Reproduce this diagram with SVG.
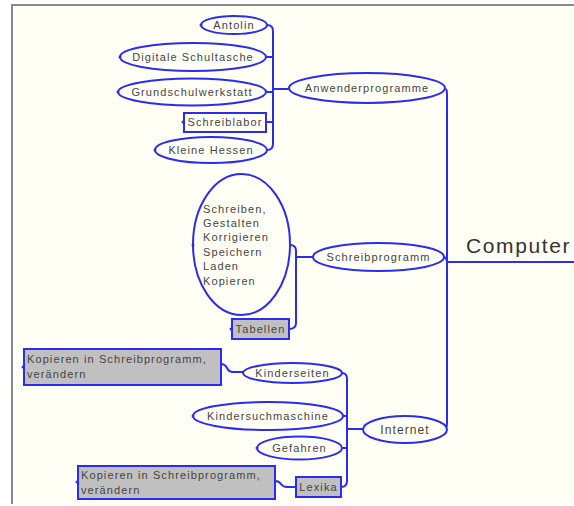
<svg xmlns="http://www.w3.org/2000/svg" width="574" height="506" viewBox="0 0 574 506">
<style>
.bg{fill:#fffff6}
.el{fill:#fffff6;stroke:#2b2bf2;stroke-width:2}
.bx{fill:#fffff6;stroke:#2b2bf2;stroke-width:2}
.gb{fill:#c0c0c0;stroke:#2b2bf2;stroke-width:2}
.cn{fill:none;stroke:#2b2bf2;stroke-width:2}
.t{font-family:"Liberation Sans",Arial,sans-serif;font-size:11px;fill:#444;letter-spacing:1.1px}
.c{text-anchor:middle}
.dot{fill:#2b2bf2}
</style>
<rect x="0" y="0" width="574" height="506" fill="#ffffff"/>
<rect class="bg" x="11" y="4" width="563" height="500"/>
<line x1="11" y1="5" x2="574" y2="5" stroke="#8a8a8a" stroke-width="2"/>
<line x1="12" y1="4" x2="12" y2="504" stroke="#8a8a8a" stroke-width="2"/>

<g id="connectors">
<path class="cn" d="M446,89 Q447,90 447,95 L447,423 Q447,428 445,429"/>
<path class="cn" d="M447,262 L574,262"/>
<path class="cn" d="M267,25 Q273,25 273,31 L273,144 Q273,150 267,150"/>
<path class="cn" d="M266,57 L273,57"/>
<path class="cn" d="M266,92 L273,92"/>
<path class="cn" d="M266,122 L273,122"/>
<path class="cn" d="M273,89 L289,89"/>
<path class="cn" d="M290,245 Q296,245 296,251 L296,323 Q296,329 289,329"/>
<path class="cn" d="M296,257 L313,257"/>
<path class="cn" d="M444,257 Q447,258 447,262"/>
<path class="cn" d="M342,373 Q347,373 347,379 L347,481 Q347,487 341,487"/>
<path class="cn" d="M343,416 L347,416"/>
<path class="cn" d="M342,448 L347,448"/>
<path class="cn" d="M347,429 L363,429"/>
<path class="cn" d="M221,364 Q225,364 227,368 Q229,372 233,372 L243,372"/>
<path class="cn" d="M275,481 Q279,481 281,484 Q283,487 287,487 L296,487"/>
</g>

<g id="computer">
<text x="466" y="253" font-family="Liberation Sans,Arial,sans-serif" font-size="21" letter-spacing="1.6" fill="#333">Computer</text>
</g>

<g id="anwenderprogramme">
<ellipse class="el" cx="367" cy="88" rx="78" ry="15"/>
<text class="t c" x="367" y="92">Anwenderprogramme</text>
</g>
<g id="antolin">
<ellipse class="el" cx="234" cy="25" rx="33" ry="9"/>
<text class="t c" x="234" y="29">Antolin</text>
<circle class="dot" cx="201" cy="25" r="1.5"/>
</g>
<g id="digitale">
<ellipse class="el" cx="193" cy="57" rx="73" ry="14"/>
<text class="t c" x="193" y="61">Digitale Schultasche</text>
<circle class="dot" cx="120" cy="57" r="1.5"/>
</g>
<g id="grundschul">
<ellipse class="el" cx="192" cy="92" rx="74" ry="13.5"/>
<text class="t c" x="192" y="96">Grundschulwerkstatt</text>
<circle class="dot" cx="118" cy="92" r="1.5"/>
</g>
<g id="schreiblabor">
<rect class="bx" x="184" y="113" width="82" height="19"/>
<text class="t c" x="225" y="126">Schreiblabor</text>
<circle class="dot" cx="183" cy="122" r="1.5"/>
</g>
<g id="kleinehessen">
<ellipse class="el" cx="211" cy="150" rx="56" ry="13"/>
<text class="t c" x="211" y="154">Kleine Hessen</text>
<circle class="dot" cx="155" cy="150" r="1.5"/>
</g>

<g id="schreibprogramm">
<ellipse class="el" cx="378.5" cy="257" rx="65.5" ry="14"/>
<text class="t c" x="378.5" y="261">Schreibprogramm</text>
</g>
<g id="funktionen">
<ellipse class="el" cx="241.5" cy="244.5" rx="48.5" ry="70.5"/>
<text class="t" x="203" y="213">Schreiben,</text>
<text class="t" x="203" y="227">Gestalten</text>
<text class="t" x="203" y="241">Korrigieren</text>
<text class="t" x="203" y="256">Speichern</text>
<text class="t" x="203" y="270">Laden</text>
<text class="t" x="203" y="285">Kopieren</text>
<circle class="dot" cx="193" cy="245" r="1.5"/>
</g>
<g id="tabellen">
<rect class="gb" x="232" y="319" width="57" height="20"/>
<text class="t c" x="260.5" y="333">Tabellen</text>
<circle class="dot" cx="231" cy="329" r="1.5"/>
</g>

<g id="internet">
<ellipse class="el" cx="405" cy="429.5" rx="42" ry="13.5"/>
<text class="t c" x="405" y="434" style="font-size:12px">Internet</text>
</g>
<g id="kinderseiten">
<ellipse class="el" cx="292.5" cy="373" rx="49.5" ry="10"/>
<text class="t c" x="292.5" y="377">Kinderseiten</text>
</g>
<g id="kopieren1">
<rect class="gb" x="24" y="349" width="197" height="36"/>
<text class="t" x="27" y="363">Kopieren in Schreibprogramm,</text>
<text class="t" x="27" y="378">verändern</text>
<circle class="dot" cx="23" cy="367" r="1.5"/>
</g>
<g id="kindersuchmaschine">
<ellipse class="el" cx="268" cy="416" rx="75" ry="14"/>
<text class="t c" x="268" y="420">Kindersuchmaschine</text>
<circle class="dot" cx="193" cy="416" r="1.5"/>
</g>
<g id="gefahren">
<ellipse class="el" cx="299.5" cy="448" rx="42.5" ry="11.5"/>
<text class="t c" x="299.5" y="452">Gefahren</text>
<circle class="dot" cx="257" cy="448" r="1.5"/>
</g>
<g id="lexika">
<rect class="gb" x="296" y="477" width="45" height="20"/>
<text class="t c" x="318.5" y="491">Lexika</text>
</g>
<g id="kopieren2">
<rect class="gb" x="78" y="466" width="197" height="33"/>
<text class="t" x="81" y="479">Kopieren in Schreibprogramm,</text>
<text class="t" x="81" y="494">verändern</text>
<circle class="dot" cx="77" cy="482" r="1.5"/>
</g>
</svg>
